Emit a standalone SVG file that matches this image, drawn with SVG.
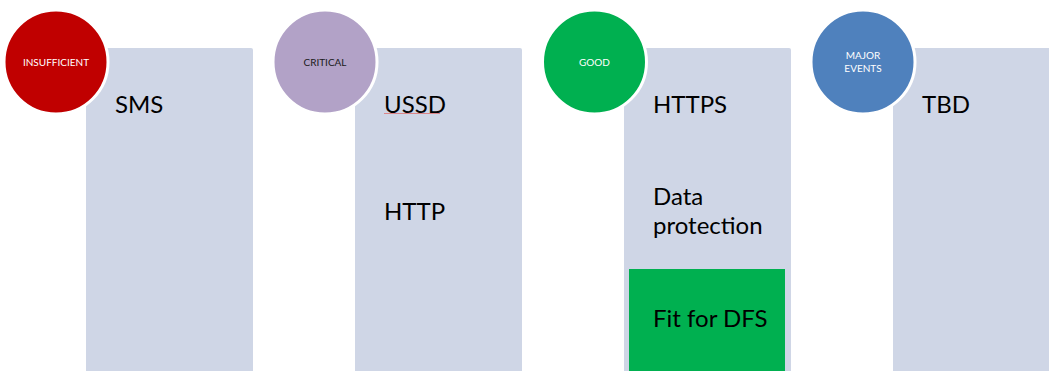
<svg xmlns="http://www.w3.org/2000/svg" width="1049" height="371" viewBox="0 0 1049 371">
<style>
.panel{fill:#CFD6E6}
.ring{stroke:#FFFFFF;stroke-width:3}
.big{font-family:Lato,"Open Sans","Liberation Sans",sans-serif;font-size:24px;fill:#000000}
.small{font-family:Lato,"Open Sans","Liberation Sans",sans-serif;font-size:10px;text-anchor:middle}
</style>
<rect width="1049" height="371" fill="#FFFFFF"/>
<g id="col-insufficient">
<rect class="panel" x="86" y="48" width="167" height="330" rx="2"/>
<circle class="ring" cx="56" cy="62" r="52" fill="#C00000"/>
<text class="small" x="56" y="65.5" fill="#FFFFFF">INSUFFICIENT</text>
<text class="big" x="115" y="113">SMS</text>
</g>
<g id="col-critical">
<rect class="panel" x="355" y="48" width="167" height="330" rx="2"/>
<circle class="ring" cx="325" cy="62" r="52" fill="#B2A2C7"/>
<text class="small" x="325" y="65.5" fill="#1A1A1A">CRITICAL</text>
<text class="big" x="384" y="113">USSD</text>
<line x1="384" y1="113.5" x2="440" y2="113.5" stroke="#E07070" stroke-width="0.8"/>
<text class="big" x="384" y="220">HTTP</text>
</g>
<g id="col-good">
<rect class="panel" x="624" y="48" width="167" height="330" rx="2"/>
<circle class="ring" cx="594.5" cy="62" r="52" fill="#00B050"/>
<text class="small" x="594.5" y="65.5" fill="#FFFFFF">GOOD</text>
<text class="big" x="653" y="113">HTTPS</text>
<text class="big" x="653" y="205">Data</text>
<text class="big" x="653" y="234">protection</text>
<rect x="629" y="269" width="156" height="110" fill="#00B050"/>
<text class="big" x="653" y="327">Fit for DFS</text>
</g>
<g id="col-major-events">
<rect class="panel" x="893" y="48" width="167" height="330" rx="2"/>
<circle class="ring" cx="863" cy="62" r="52" fill="#4F81BD"/>
<text class="small" x="863" y="58.5" fill="#FFFFFF">MAJOR</text>
<text class="small" x="863" y="72" fill="#FFFFFF">EVENTS</text>
<text class="big" x="922" y="113">TBD</text>
</g>
<g id="connectors"></g>
</svg>
